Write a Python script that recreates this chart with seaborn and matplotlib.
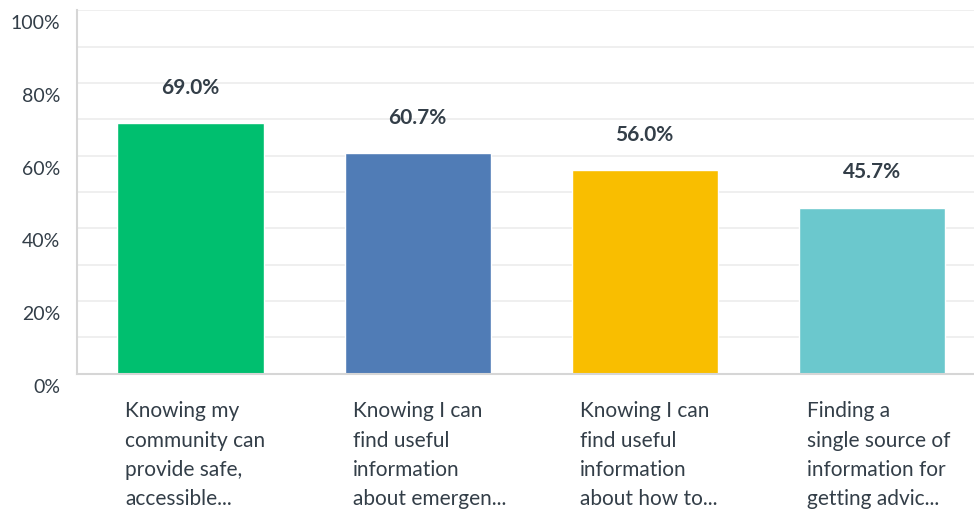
import numpy as np
import pandas as pd
import seaborn as sns
import matplotlib.pyplot as plt
import matplotlib.transforms as mtransforms

# Survey responses (percent)
categories = [
    "Knowing my\ncommunity can\nprovide safe,\naccessible...",
    "Knowing I can\nfind useful\ninformation\nabout emergen...",
    "Knowing I can\nfind useful\ninformation\nabout how to...",
    "Finding a\nsingle source of\ninformation for\ngetting advic...",
]
values = [69.0, 60.7, 56.0, 45.7]
colors = ["#00bf6f", "#507cb6", "#f9be00", "#6bc8cd"]
y_ticks = [0, 20, 40, 60, 80, 100]

df = pd.DataFrame({"category": categories, "value": values})

sns.set_theme(style="white")
plt.rcParams['font.family'] = ['Lato', 'DejaVu Sans']
text_color = "#333e48"

fig = plt.figure(figsize=(9.74, 5.10), dpi=100)
ax = fig.add_axes([0.079, 0.265, 0.921, 0.713])

sns.barplot(data=df, x="category", y="value", hue="category",
            palette=colors, width=0.643, legend=False, ax=ax, saturation=1)

ax.set_ylim(0, 100)
ax.set_xlim(-0.5, 3.45)
ax.set_yticks(y_ticks)
ax.set_yticks(np.arange(10, 100, 20), minor=True)
ax.yaxis.grid(True, which="both", color="#ececec", linewidth=1.2)
ax.set_axisbelow(True)
ax.set_yticklabels([f"{t}%" for t in y_ticks], fontsize=14, color=text_color)
ax.tick_params(axis="y", which="both", length=0, pad=12)
ax.tick_params(axis="x", length=0, pad=19)

# y labels sit a bit below their gridline
dy = mtransforms.ScaledTranslation(0, -11 / 100, fig.dpi_scale_trans)
for lab in ax.get_yticklabels():
    lab.set_transform(lab.get_transform() + dy)

# category labels left aligned under each bar
dx = mtransforms.ScaledTranslation(-65 / 100, 0, fig.dpi_scale_trans)
ax.set_xticks(range(len(categories)))
ax.set_xticklabels(categories, fontsize=15, color=text_color, ha="left",
                   va="top", linespacing=1.58)
for lab in ax.get_xticklabels():
    lab.set_transform(lab.get_transform() + dx)

ax.set_xlabel("")
ax.set_ylabel("")

for c in ax.containers:
    ax.bar_label(c, labels=[f"{v:.1f}%" for v in c.datavalues], padding=19,
                 fontsize=15, fontweight="bold", color=text_color)

for s in ["top", "right"]:
    ax.spines[s].set_visible(False)
ax.spines["left"].set_color("#d6d6d6")
ax.spines["bottom"].set_color("#d6d6d6")
ax.spines["left"].set_linewidth(1.5)
ax.spines["bottom"].set_linewidth(1.5)

fig.savefig("out.png", dpi=100)
